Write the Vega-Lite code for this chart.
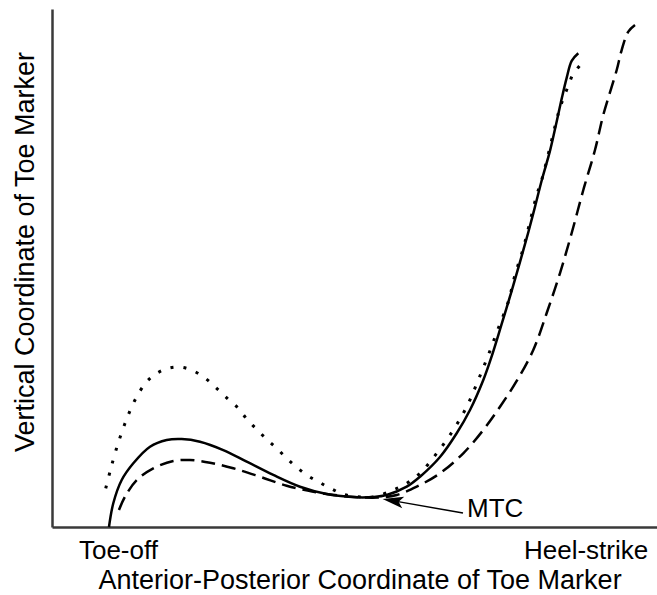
{
  "$schema": "https://vega.github.io/schema/vega-lite/v6.json",
  "width": 605,
  "height": 518,
  "autosize": {"type": "none"},
  "padding": {"left": 52, "top": 9, "right": 0, "bottom": 68},
  "config": {
    "view": {"stroke": null},
    "font": "Liberation Sans",
    "axis": {"labelFont": "Liberation Sans", "titleFont": "Liberation Sans"}
  },
  "datasets": {
    "curves": [
      {"c": "solid", "x": 9.42, "y": 0},
      {"c": "solid", "x": 10.13, "y": 4.58},
      {"c": "solid", "x": 11.52, "y": 9.07},
      {"c": "solid", "x": 13.44, "y": 12.3},
      {"c": "solid", "x": 16.2, "y": 15.5},
      {"c": "solid", "x": 18.96, "y": 16.8},
      {"c": "solid", "x": 21.44, "y": 16.99},
      {"c": "solid", "x": 24.46, "y": 16.47},
      {"c": "solid", "x": 28.31, "y": 14.86},
      {"c": "solid", "x": 32.18, "y": 12.61},
      {"c": "solid", "x": 36.58, "y": 10.04},
      {"c": "solid", "x": 40.99, "y": 7.78},
      {"c": "solid", "x": 45.4, "y": 6.37},
      {"c": "solid", "x": 50.36, "y": 5.73},
      {"c": "solid", "x": 53.11, "y": 5.79},
      {"c": "solid", "x": 55.32, "y": 6.18},
      {"c": "solid", "x": 58.63, "y": 7.78},
      {"c": "solid", "x": 60.83, "y": 9.71},
      {"c": "solid", "x": 64.13, "y": 13.51},
      {"c": "solid", "x": 66.89, "y": 18.09},
      {"c": "solid", "x": 69.09, "y": 22.59},
      {"c": "solid", "x": 71.29, "y": 28.38},
      {"c": "solid", "x": 72.8, "y": 33.4},
      {"c": "solid", "x": 74.33, "y": 39.2},
      {"c": "solid", "x": 75.98, "y": 45.6},
      {"c": "solid", "x": 77.36, "y": 51.2},
      {"c": "solid", "x": 78.73, "y": 56.9},
      {"c": "solid", "x": 79.83, "y": 61.8},
      {"c": "solid", "x": 80.94, "y": 66.9},
      {"c": "solid", "x": 82.31, "y": 72.6},
      {"c": "solid", "x": 83.42, "y": 78.3},
      {"c": "solid", "x": 84.25, "y": 82.7},
      {"c": "solid", "x": 85.07, "y": 86.7},
      {"c": "solid", "x": 85.9, "y": 90.0},
      {"c": "solid", "x": 86.99, "y": 91.45},
      {"c": "dashed", "x": 11.07, "y": 3.28},
      {"c": "dashed", "x": 12.07, "y": 5.85},
      {"c": "dashed", "x": 14.0, "y": 9.07},
      {"c": "dashed", "x": 16.74, "y": 11.33},
      {"c": "dashed", "x": 20.05, "y": 12.74},
      {"c": "dashed", "x": 22.81, "y": 12.93},
      {"c": "dashed", "x": 26.12, "y": 12.41},
      {"c": "dashed", "x": 29.97, "y": 11.33},
      {"c": "dashed", "x": 34.38, "y": 9.71},
      {"c": "dashed", "x": 38.79, "y": 7.97},
      {"c": "dashed", "x": 43.19, "y": 6.81},
      {"c": "dashed", "x": 47.6, "y": 6.04},
      {"c": "dashed", "x": 50.91, "y": 5.73},
      {"c": "dashed", "x": 53.88, "y": 5.69},
      {"c": "dashed", "x": 56.98, "y": 6.18},
      {"c": "dashed", "x": 60.28, "y": 7.78},
      {"c": "dashed", "x": 64.13, "y": 10.37},
      {"c": "dashed", "x": 67.98, "y": 14.23},
      {"c": "dashed", "x": 71.29, "y": 18.73},
      {"c": "dashed", "x": 74.05, "y": 23.22},
      {"c": "dashed", "x": 76.81, "y": 28.19},
      {"c": "dashed", "x": 79.55, "y": 34.17},
      {"c": "dashed", "x": 81.77, "y": 41.31},
      {"c": "dashed", "x": 83.97, "y": 49.03},
      {"c": "dashed", "x": 85.9, "y": 56.76},
      {"c": "dashed", "x": 87.82, "y": 65.06},
      {"c": "dashed", "x": 89.75, "y": 72.78},
      {"c": "dashed", "x": 91.12, "y": 79.54},
      {"c": "dashed", "x": 93.34, "y": 88.22},
      {"c": "dashed", "x": 94.16, "y": 92.08},
      {"c": "dashed", "x": 95.26, "y": 95.62},
      {"c": "dashed", "x": 96.36, "y": 96.91},
      {"c": "dotted", "x": 8.88, "y": 7.47},
      {"c": "dotted", "x": 9.59, "y": 10.68},
      {"c": "dotted", "x": 10.58, "y": 14.86},
      {"c": "dotted", "x": 12.07, "y": 20.02},
      {"c": "dotted", "x": 13.72, "y": 24.52},
      {"c": "dotted", "x": 15.65, "y": 28.05},
      {"c": "dotted", "x": 17.31, "y": 29.67},
      {"c": "dotted", "x": 19.22, "y": 30.64},
      {"c": "dotted", "x": 21.44, "y": 30.83},
      {"c": "dotted", "x": 23.64, "y": 29.98},
      {"c": "dotted", "x": 25.57, "y": 28.51},
      {"c": "dotted", "x": 27.22, "y": 26.78},
      {"c": "dotted", "x": 29.14, "y": 24.65},
      {"c": "dotted", "x": 30.79, "y": 22.92},
      {"c": "dotted", "x": 32.18, "y": 20.85},
      {"c": "dotted", "x": 33.83, "y": 18.86},
      {"c": "dotted", "x": 35.49, "y": 16.93},
      {"c": "dotted", "x": 37.14, "y": 15.19},
      {"c": "dotted", "x": 38.79, "y": 13.26},
      {"c": "dotted", "x": 40.45, "y": 11.53},
      {"c": "dotted", "x": 42.36, "y": 9.85},
      {"c": "dotted", "x": 44.3, "y": 8.55},
      {"c": "dotted", "x": 46.23, "y": 7.34},
      {"c": "dotted", "x": 48.15, "y": 6.31},
      {"c": "dotted", "x": 50.36, "y": 5.85},
      {"c": "dotted", "x": 53.06, "y": 5.79},
      {"c": "dotted", "x": 56.41, "y": 7.14},
      {"c": "dotted", "x": 58.63, "y": 8.44},
      {"c": "dotted", "x": 60.83, "y": 10.37},
      {"c": "dotted", "x": 63.59, "y": 14.23},
      {"c": "dotted", "x": 66.33, "y": 18.73},
      {"c": "dotted", "x": 68.55, "y": 23.22},
      {"c": "dotted", "x": 70.46, "y": 28.38},
      {"c": "dotted", "x": 72.12, "y": 33.2},
      {"c": "dotted", "x": 73.77, "y": 38.36},
      {"c": "dotted", "x": 75.42, "y": 43.49},
      {"c": "dotted", "x": 76.53, "y": 48.65},
      {"c": "dotted", "x": 77.9, "y": 53.8},
      {"c": "dotted", "x": 79.01, "y": 58.94},
      {"c": "dotted", "x": 80.12, "y": 64.09},
      {"c": "dotted", "x": 80.94, "y": 66.99},
      {"c": "dotted", "x": 82.6, "y": 74.71},
      {"c": "dotted", "x": 83.69, "y": 79.86},
      {"c": "dotted", "x": 84.41, "y": 82.43},
      {"c": "dotted", "x": 85.24, "y": 84.88},
      {"c": "dotted", "x": 86.07, "y": 87.26},
      {"c": "dotted", "x": 87.55, "y": 89.52}
    ],
    "arrow": [
      {"x": 67.93, "y": 2.7, "x2": 57.2, "y2": 4.9, "hx": 56.35, "hy": 5.08, "angle": 9.9, "label": "MTC", "lx": 68.6, "ly": 1.93}
    ]
  },
  "layer": [
    {
      "data": {"name": "curves"},
      "transform": [{"filter": "datum.c === 'solid'"}],
      "mark": {"type": "line", "interpolate": "catmull-rom", "color": "black", "strokeWidth": 2.5},
      "encoding": {
        "x": {
          "field": "x", "type": "quantitative",
          "scale": {"domain": [0, 100], "nice": false, "zero": false},
          "axis": {
            "values": [10.9, 88.2],
            "labelExpr": "datum.value < 50 ? 'Toe-off' : 'Heel-strike'",
            "ticks": false, "grid": false,
            "domainColor": "#3a3a3a", "domainWidth": 2.5,
            "labelFontSize": 26, "labelColor": "black",
            "labelBaseline": "alphabetic", "labelPadding": 31,
            "labelFlush": false, "labelOverlap": false, "labelBound": false,
            "title": "Anterior-Posterior Coordinate of Toe Marker",
            "titleFontSize": 27, "titleFontWeight": "normal", "titleColor": "black",
            "titleBaseline": "alphabetic", "titleAlign": "center",
            "titleX": 307.5, "titleY": 61
          }
        },
        "y": {
          "field": "y", "type": "quantitative",
          "scale": {"domain": [0, 100], "nice": false, "zero": false},
          "axis": {
            "labels": false, "ticks": false, "grid": false,
            "domainColor": "#3a3a3a", "domainWidth": 2.5,
            "title": "Vertical Coordinate of Toe Marker",
            "titleFontSize": 27, "titleFontWeight": "normal", "titleColor": "black",
            "titleAngle": 270, "titleBaseline": "alphabetic", "titleAlign": "center",
            "titleX": -19, "titleY": 242.5
          }
        }
      }
    },
    {
      "data": {"name": "curves"},
      "transform": [{"filter": "datum.c === 'dashed'"}],
      "mark": {"type": "line", "interpolate": "catmull-rom", "color": "black", "strokeWidth": 2.5, "strokeDash": [14, 7]},
      "encoding": {
        "x": {"field": "x", "type": "quantitative"},
        "y": {"field": "y", "type": "quantitative"}
      }
    },
    {
      "data": {"name": "curves"},
      "transform": [{"filter": "datum.c === 'dotted'"}],
      "mark": {"type": "line", "interpolate": "catmull-rom", "color": "black", "strokeWidth": 3, "strokeDash": [3, 10]},
      "encoding": {
        "x": {"field": "x", "type": "quantitative"},
        "y": {"field": "y", "type": "quantitative"}
      }
    },
    {
      "data": {"name": "arrow"},
      "mark": {"type": "rule", "color": "black", "strokeWidth": 1.5},
      "encoding": {
        "x": {"field": "x", "type": "quantitative"},
        "y": {"field": "y", "type": "quantitative"},
        "x2": {"field": "x2"},
        "y2": {"field": "y2"}
      }
    },
    {
      "data": {"name": "arrow"},
      "mark": {"type": "point", "filled": true, "color": "black", "opacity": 1, "size": 440,
               "shape": "M -1 0 L 1 -0.55 L 0.55 0 L 1 0.55 Z"},
      "encoding": {
        "x": {"field": "hx", "type": "quantitative"},
        "y": {"field": "hy", "type": "quantitative"},
        "angle": {"field": "angle", "type": "quantitative", "scale": null}
      }
    },
    {
      "data": {"name": "arrow"},
      "mark": {"type": "text", "align": "left", "baseline": "alphabetic", "fontSize": 26, "color": "black", "font": "Liberation Sans"},
      "encoding": {
        "x": {"field": "lx", "type": "quantitative"},
        "y": {"field": "ly", "type": "quantitative"},
        "text": {"field": "label"}
      }
    }
  ]
}
